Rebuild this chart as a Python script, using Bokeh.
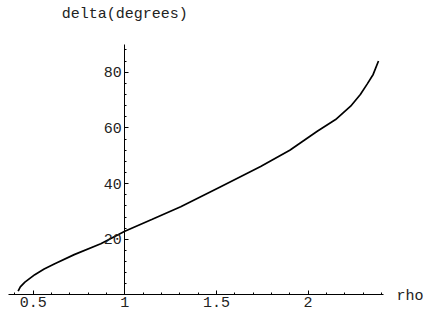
from bokeh.plotting import figure
from bokeh.models import FixedTicker, Label, Range1d
from bokeh.embed import file_html
from bokeh.resources import INLINE

# data
rho = [0.418, 0.43, 0.455, 0.509, 0.56, 0.618, 0.724, 0.869, 1.0, 1.15, 1.305,
       1.523, 1.741, 1.9, 2.05, 2.15, 2.232, 2.285, 2.323, 2.355, 2.384]
delta = [1.4, 2.9, 4.6, 7.3, 9.3, 11.2, 14.5, 18.4, 22.9, 27.2, 31.7,
         38.9, 46.1, 52.0, 58.8, 63.0, 67.8, 72.0, 75.8, 79.2, 84.0]

x_ticks = [0.5, 1, 1.5, 2]
x_tick_labels = ["0.5", "1", "1.5", "2"]
x_minor = [0.4, 0.6, 0.7, 0.8, 0.9, 1.1, 1.2, 1.3, 1.4, 1.6, 1.7, 1.8, 1.9,
           2.1, 2.2, 2.3, 2.4]
y_ticks = [20, 40, 60, 80]
y_tick_labels = ["20", "40", "60", "80"]
y_minor = [4, 8, 12, 16, 24, 28, 32, 36, 44, 48, 52, 56, 64, 68, 72, 76, 84, 88]

x_label = "rho"
y_label = "delta(degrees)"

FONT = "Liberation Mono"
FS = "15px"
TXT = "#222222"

X_AXIS = (0.3655, 2.411)
Y_AXIS = (0, 90.1)

p = figure(width=427, height=311, output_backend="svg", toolbar_location=None,
           x_range=Range1d(0.32188, 2.65139), y_range=Range1d(-5.925, 105.745),
           min_border_left=0, min_border_right=0, min_border_top=0,
           min_border_bottom=0)
p.title.visible = False
p.outline_line_color = None
p.xgrid.visible = False
p.ygrid.visible = False
p.background_fill_color = "white"
p.border_fill_color = "white"

p.line(rho, delta, line_color="black", line_width=1.7)

for ax in (p.xaxis[0], p.yaxis[0]):
    ax.axis_line_color = "black"
    ax.axis_line_width = 1
    ax.major_tick_line_color = "black"
    ax.minor_tick_line_color = "black"
    ax.major_tick_in = 4
    ax.major_tick_out = 0
    ax.minor_tick_in = 2
    ax.minor_tick_out = 0
    ax.major_label_text_font = FONT
    ax.major_label_text_font_size = FS
    ax.major_label_text_color = TXT

p.xaxis.fixed_location = 0
p.yaxis.fixed_location = 1
p.xaxis.bounds = X_AXIS
p.yaxis.bounds = Y_AXIS
p.xaxis.ticker = FixedTicker(ticks=x_ticks, minor_ticks=x_minor)
p.yaxis.ticker = FixedTicker(ticks=y_ticks, minor_ticks=y_minor)
p.xaxis.major_label_overrides = {t: s for t, s in zip(x_ticks, x_tick_labels)}
p.yaxis.major_label_overrides = {t: s for t, s in zip(y_ticks, y_tick_labels)}
p.xaxis.major_label_standoff = 2
p.yaxis.major_label_standoff = 3

p.add_layout(Label(x=1, y=Y_AXIS[1], text=y_label, text_align="center",
                   text_baseline="bottom", y_offset=21,
                   text_font=FONT, text_font_size=FS, text_color=TXT))
p.add_layout(Label(x=X_AXIS[1], y=0, text=x_label, text_align="left",
                   text_baseline="middle", x_offset=13, y_offset=-2,
                   text_font=FONT, text_font_size=FS, text_color=TXT))

open("out.html", "w").write(file_html(p, INLINE))
